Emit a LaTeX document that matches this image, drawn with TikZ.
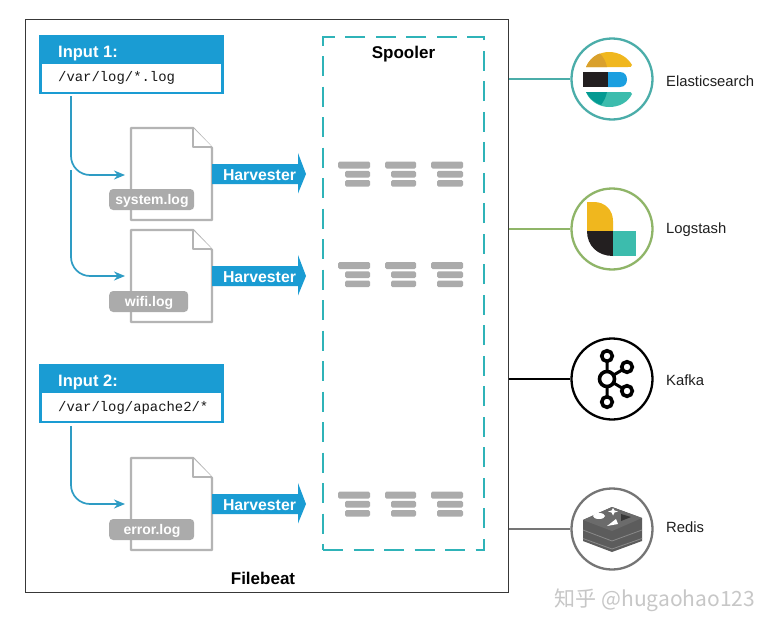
\documentclass[tikz,border=0pt]{standalone}
\usepackage{fontspec}
\setmainfont{Liberation Sans}
\setmonofont{Liberation Mono}
\newfontfamily\cjkwm{Noto Sans CJK SC}
\usetikzlibrary{arrows.meta}
\definecolor{hblue}{HTML}{1A9CD3}
\definecolor{lblue}{HTML}{2E9CC4}
\definecolor{teal1}{HTML}{2FB3B8}
\definecolor{esring}{HTML}{4BADA9}
\definecolor{lsring}{HTML}{8FB568}
\definecolor{rering}{HTML}{757575}
\definecolor{barg}{HTML}{ABABAB}
\definecolor{docg}{HTML}{B4B4B4}
\definecolor{ey}{HTML}{F0B71E}
\definecolor{eyd}{HTML}{D9A02C}
\definecolor{ebk}{HTML}{231F20}
\definecolor{ebl}{HTML}{1B9FE0}
\definecolor{et}{HTML}{3CBCAD}
\definecolor{etd}{HTML}{049A92}
\tikzset{
  frame/.style={draw=black!78,line width=1pt,minimum width=483pt,minimum height=573pt,inner sep=0},
  inbox/.style={draw=hblue,line width=2.2pt,fill=white,minimum width=182pt,minimum height=57pt,inner sep=0},
  inhead/.style={fill=hblue,minimum width=183pt,minimum height=28pt,inner sep=0},
  intitle/.style={text=white,font=\bfseries\fontsize{16.5}{18}\selectfont,anchor=west,inner sep=0},
  inpath/.style={font=\ttfamily\fontsize{13.9}{16}\selectfont,text=black!90,anchor=west,inner sep=0},
  flow/.style={draw=lblue,line width=1.7pt,rounded corners=19pt,-{Stealth[length=11pt,width=9pt]}},
  doc/.style={draw=docg,line width=2.3pt,fill=white,line join=round},
  loglabel/.style={fill=barg,rounded corners=4pt,text=white,font=\bfseries\fontsize{14}{16}\selectfont,minimum height=21pt,inner sep=0},
  logtext/.style={text=white,font=\bfseries\fontsize{14}{16}\selectfont,inner sep=0},
  harv/.style={text=white,font=\bfseries\fontsize{15.8}{18}\selectfont,inner sep=0},
  harrow/.style={fill=hblue},
  spool/.style={draw=teal1,line width=2.6pt,dash pattern=on 20pt off 10.5pt,minimum width=161pt,minimum height=513pt,inner sep=0},
  heading/.style={font=\bfseries\fontsize{17}{19}\selectfont,text=black,inner sep=0},
  bar/.style={fill=barg,rounded corners=1.5pt},
  ring/.style={circle,line width=2.3pt,fill=white,minimum size=81pt,inner sep=0},
  tool/.style={font=\fontsize{14.8}{17}\selectfont,text=black!88,anchor=west,inner sep=0},
  link/.style={line width=2pt},
  kring/.style={draw=black,line width=3.6pt,fill=white},
}
\begin{document}
\begin{tikzpicture}[x=1pt,y=-1pt]
\useasboundingbox (0,0) rectangle (772,629);
\fill[white] (0,0) rectangle (772,629);
\node[frame] (fb) at (266.5,305.5) {};
\node[heading] (fbt) at (263,578.5) {Filebeat};

% Spooler
\node[spool] (sp) at (403.5,293.5) {};
\node[heading] (spt) at (403.5,54.5) {Spooler};
\foreach \yy in {161.5,262,491.5}{
  \foreach \xx/\xb/\xe in {338/345/370,385/391/416,431/437/463}{
    \path[bar] (\xx,\yy) rectangle (\xe,\yy+7);
    \path[bar] (\xb,\yy+9.3) rectangle (\xe,\yy+16);
    \path[bar] (\xb,\yy+18.5) rectangle (\xe,\yy+25.2);
  }
}

% Inputs
\node[inbox] (in1) at (131.5,64.5) {};
\node[inhead] (in1h) at (131.5,50) {};
\node[intitle] (in1t) at (58,53.5) {Input 1:};
\node[inpath] (in1p) at (58,78) {/var/log/*.log};
\node[inbox] (in2) at (131.5,393.5) {};
\node[inhead] (in2h) at (131.5,379) {};
\node[intitle] (in2t) at (58,382.5) {Input 2:};
\node[inpath] (in2p) at (58,407.5) {/var/log/apache2/*};

% Connectors
\coordinate (a1) at (71,96);
\coordinate (a1b) at (71,175);
\coordinate (d1in) at (125,175);
\coordinate (a2) at (71,170);
\coordinate (a2b) at (71,276);
\coordinate (d2in) at (125,276);
\coordinate (a3) at (71,426);
\coordinate (a3b) at (71,504);
\coordinate (d3in) at (125,504);
\draw[flow] (a1) -- (a1b) -- (d1in);
\draw[flow] (a2) -- (a2b) -- (d2in);
\draw[flow] (a3) -- (a3b) -- (d3in);

% Documents and harvesters
\foreach \yt/\lab/\lw/\nm in {128/system.log/85/sys,230/wifi.log/79/wifi,458/error.log/85/err}{
  \draw[doc] (131,\yt) -- (193,\yt) -- (212,\yt+20) -- (212,\yt+92) -- (131,\yt+92) -- cycle;
  \draw[doc] (193,\yt) -- (193,\yt+19) -- (212,\yt+19);
  \node[loglabel,minimum width=\lw pt,anchor=west] (l\nm) at (109,\yt+71.5) {};
  \node[logtext] (t\nm) at (109+\lw/2+0.5,\yt+72.5) {\lab};
  \path[harrow] (212,\yt+36) -- (298,\yt+36) -- (298,\yt+25) -- (306,\yt+46) -- (298,\yt+65.5) -- (298,\yt+56) -- (212,\yt+56) -- cycle;
  \node[harv] (h\nm) at (259.5,\yt+47.5) {Harvester};
}

% Rings
\node[ring,draw=esring] (es) at (612,79) {};
\node[ring,draw=lsring] (ls) at (612,229) {};
\node[ring,draw=black] (ka) at (612,379) {};
\node[ring,draw=rering] (re) at (612,529) {};
\draw[link,draw=esring] (fb.east |- es) -- (es);
\draw[link,draw=lsring] (fb.east |- ls) -- (ls);
\draw[link,draw=black,line width=2.6pt] (fb.east |- ka) -- (ka);
\draw[link,draw=rering] (fb.east |- re) -- (re);
\node[tool] (est) at (666,81) {Elasticsearch};
\node[tool] (lst) at (666,230) {Logstash};
\node[tool] (kat) at (666,380) {Kafka};
\node[tool] (ret) at (666,527) {Redis};

% Elasticsearch logo
\fill[ey] (586,67) .. controls (590,57) and (600,52) .. (609,52) .. controls (620,52) and (628,58) .. (632,65) .. controls (632,67) and (630,67) .. (628,67) -- cycle;
\fill[eyd] (586,67) .. controls (590,58) and (597,54) .. (600,53.5) .. controls (604,58) and (606,62) .. (607,67) -- cycle;
\fill[ebk] (583,72) rectangle (608,87);
\fill[ebl] (608,72) -- (620,72) .. controls (625,72) and (627,76) .. (627,79.5) .. controls (627,83) and (625,87) .. (620,87) -- (608,87) -- cycle;
\fill[et] (586,92) -- (628,92) .. controls (630,92) and (632,92) .. (632,94) .. controls (628,102) and (620,107) .. (609,107) .. controls (600,107) and (590,102) .. (586,92) -- cycle;
\fill[etd] (586,92) -- (607,92) .. controls (606,97) and (604,101) .. (601,105) .. controls (595,103) and (589,98) .. (586,92) -- cycle;

% Logstash logo
\fill[ey] (587,202) -- (594,202) .. controls (605,202) and (613,210) .. (613,221) -- (613,231) -- (587,231) -- cycle;
\fill[ebk] (587,231) -- (613,231) -- (613,256) .. controls (598,256) and (587,246) .. (587,231) -- cycle;
\fill[et] (613,231) rectangle (636,256);

% Kafka logo
\draw[black,line width=3pt] (607,356) -- (607,402) (607,379) -- (627,367) (607,379) -- (627,391);
\draw[kring] (607,379) circle (7.5);
\draw[kring] (607,356) circle (5.3);
\draw[kring] (607,402) circle (5.3);
\draw[kring] (627,367) circle (5.3);
\draw[kring] (627,391) circle (5.3);

% Redis logo
\fill[black!64] (583,520) -- (612,507) -- (642,518) -- (642,541) -- (612,552) -- (583,541) -- cycle;
\fill[black!58] (583,520) -- (612,507) -- (642,518) -- (612,531) -- cycle;
\draw[black!46,line width=.8pt] (583,530) -- (612,541) -- (642,530);
\draw[black!46,line width=.8pt] (583,538.5) -- (612,549) -- (642,538.5);
\fill[white] (599,516) ellipse (6 and 3);
\fill[white] (613,508) -- (614.5,510.5) -- (618,511.5) -- (614.5,512.5) -- (613,515.5) -- (611.5,512.5) -- (608,511.5) -- (611.5,510.5) -- cycle;
\fill[white] (607,526) -- (616,519) -- (618,524) -- cycle;
\fill[black!78] (621,514) -- (631,517) -- (621,521) -- cycle;

% Watermark
\node[text=black!22,font=\cjkwm\fontsize{21}{24}\selectfont,inner sep=0] (wm) at (655,600) {知乎 @hugaohao123};
\end{tikzpicture}
\end{document}
